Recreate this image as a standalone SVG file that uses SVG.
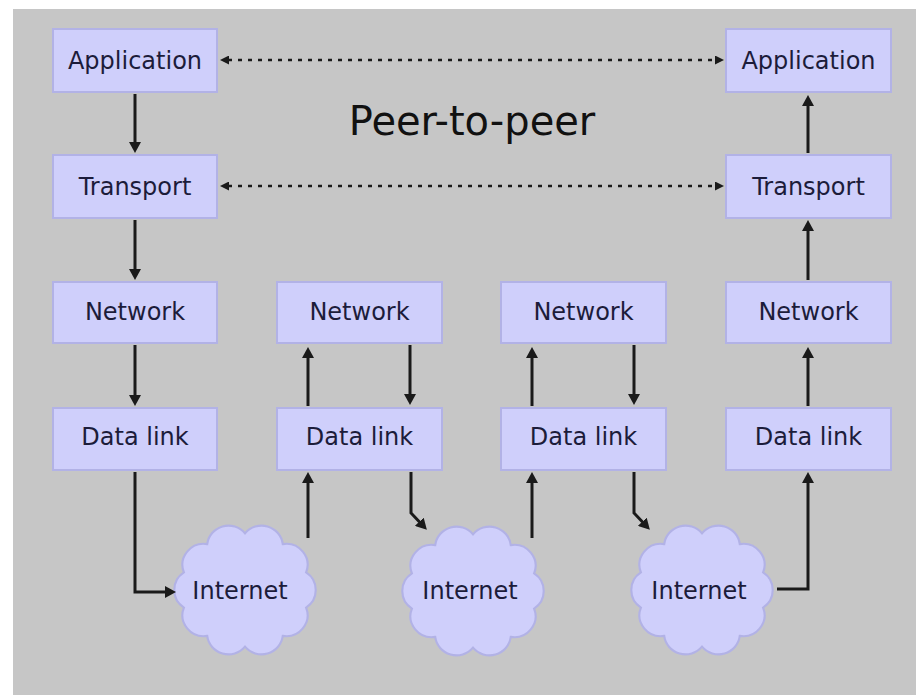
<svg xmlns="http://www.w3.org/2000/svg" xmlns:xlink="http://www.w3.org/1999/xlink" width="916" height="695" viewBox="0 0 916 695">
<style>
.box{fill:#cfcffb;stroke:#b2b2e6;stroke-width:2}
.cloud{fill:#cfcffb;stroke:#b2b2e6;stroke-width:2}
.lbl{font-family:"DejaVu Sans",sans-serif;font-size:24px;fill:#1c1c3a;text-anchor:middle}
.title{font-family:"DejaVu Sans",sans-serif;font-size:40px;fill:#111;text-anchor:middle}
.arr{fill:none;stroke:#1a1a1a;stroke-width:3;marker-end:url(#ah)}
.dot{fill:none;stroke:#1a1a1a;stroke-width:2.5;stroke-dasharray:4 6;marker-start:url(#ds);marker-end:url(#de)}
.plain{fill:none;stroke:#1a1a1a;stroke-width:3}
</style>
<defs>
<marker id="ah" viewBox="0 0 11 12" refX="1" refY="6" markerWidth="11" markerHeight="12" markerUnits="userSpaceOnUse" orient="auto"><path d="M0,0 L11,6 L0,12 z" fill="#1a1a1a"/></marker>
<marker id="de" viewBox="0 0 9 9" refX="1" refY="4.5" markerWidth="9" markerHeight="9" markerUnits="userSpaceOnUse" orient="auto"><path d="M0,0 L9,4.5 L0,9 z" fill="#1a1a1a"/></marker>
<marker id="ds" viewBox="0 0 9 9" refX="8" refY="4.5" markerWidth="9" markerHeight="9" markerUnits="userSpaceOnUse" orient="auto"><path d="M9,0 L0,4.5 L9,9 z" fill="#1a1a1a"/></marker>
<path id="cloudShape" d="M57.1,16.7 A20,20 0 0 1 35.3,43.7 A20,20 0 0 1 0,54 A20,20 0 0 1 -35.3,43.7 A20,20 0 0 1 -57.1,16.7 A20,20 0 0 1 -57.1,-16.7 A20,20 0 0 1 -35.3,-43.7 A20,20 0 0 1 0,-54 A20,20 0 0 1 35.3,-43.7 A20,20 0 0 1 57.1,-16.7 A20,20 0 0 1 57.1,16.7 z"/>
</defs>
<rect x="13" y="9" width="903" height="686" fill="#c6c6c6"/>
<text class="title" x="472" y="135">Peer-to-peer</text>

<g id="app1"><rect class="box" x="53" y="29" width="164" height="63"/><text class="lbl" x="135" y="69">Application</text></g>
<g id="trans1"><rect class="box" x="53" y="155" width="164" height="63"/><text class="lbl" x="135" y="195">Transport</text></g>
<g id="net1"><rect class="box" x="53" y="282" width="164" height="61"/><text class="lbl" x="135" y="320">Network</text></g>
<g id="dl1"><rect class="box" x="53" y="408" width="164" height="62"/><text class="lbl" x="135" y="445">Data link</text></g>

<g id="net2"><rect class="box" x="277" y="282" width="165" height="61"/><text class="lbl" x="359.5" y="320">Network</text></g>
<g id="dl2"><rect class="box" x="277" y="408" width="165" height="62"/><text class="lbl" x="359.5" y="445">Data link</text></g>

<g id="net3"><rect class="box" x="501" y="282" width="165" height="61"/><text class="lbl" x="583.5" y="320">Network</text></g>
<g id="dl3"><rect class="box" x="501" y="408" width="165" height="62"/><text class="lbl" x="583.5" y="445">Data link</text></g>

<g id="app4"><rect class="box" x="726" y="29" width="165" height="63"/><text class="lbl" x="808.5" y="69">Application</text></g>
<g id="trans4"><rect class="box" x="726" y="155" width="165" height="63"/><text class="lbl" x="808.5" y="195">Transport</text></g>
<g id="net4"><rect class="box" x="726" y="282" width="165" height="61"/><text class="lbl" x="808.5" y="320">Network</text></g>
<g id="dl4"><rect class="box" x="726" y="408" width="165" height="62"/><text class="lbl" x="808.5" y="445">Data link</text></g>

<g id="cloud1"><use xlink:href="#cloudShape" class="cloud" transform="translate(245,590) scale(1.07,1.05)"/><text class="lbl" x="240" y="599">Internet</text></g>
<g id="cloud2"><use xlink:href="#cloudShape" class="cloud" transform="translate(473,591) scale(1.07,1.05)"/><text class="lbl" x="470" y="599">Internet</text></g>
<g id="cloud3"><use xlink:href="#cloudShape" class="cloud" transform="translate(702,590) scale(1.07,1.05)"/><text class="lbl" x="699" y="599">Internet</text></g>

<g id="connectors">
<path class="dot" d="M228,60 H716"/>
<path class="dot" d="M228,186 H716"/>
<path class="arr" d="M135,94 V143"/>
<path class="arr" d="M135,220 V270"/>
<path class="arr" d="M135,345 V396"/>
<path class="arr" d="M135,472 V592 H166"/>
<path class="arr" d="M308,538 V482"/>
<path class="arr" d="M308,406 V357"/>
<path class="arr" d="M410,345 V395"/>
<path class="arr" d="M411,472 V513 L420,522.5"/>
<path class="arr" d="M532,538 V482"/>
<path class="arr" d="M532,406 V357"/>
<path class="arr" d="M634,345 V395"/>
<path class="arr" d="M634,472 V513 L643,522.5"/>
<path class="arr" d="M777,589 H808 V482"/>
<path class="arr" d="M808,406 V357"/>
<path class="arr" d="M808,280 V230"/>
<path class="arr" d="M808,153 V105"/>
</g>
</svg>
